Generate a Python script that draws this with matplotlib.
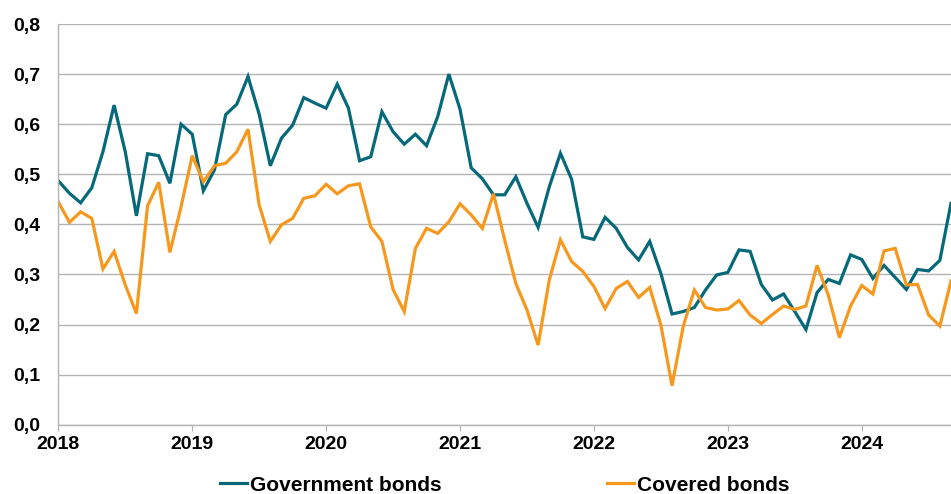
import numpy as np
import matplotlib
matplotlib.use("Agg")
import matplotlib.pyplot as plt

# monthly observations, Jan 2018 - Sep 2024
start_year = 2018
government_bonds = [
    0.487, 0.462, 0.443, 0.473, 0.545, 0.638, 0.545, 0.417, 0.541, 0.537, 0.482, 0.600,
    0.580, 0.467, 0.509, 0.619, 0.640, 0.695, 0.620, 0.517, 0.572, 0.598, 0.653, 0.642,
    0.632, 0.680, 0.632, 0.527, 0.535, 0.625, 0.585, 0.560, 0.580, 0.557, 0.615, 0.700,
    0.630, 0.513, 0.491, 0.459, 0.459, 0.495, 0.442, 0.394, 0.475, 0.542, 0.490, 0.375,
    0.370, 0.414, 0.392, 0.354, 0.329, 0.366, 0.302, 0.221, 0.226, 0.234, 0.269, 0.299,
    0.304, 0.349, 0.346, 0.280, 0.249, 0.261, 0.226, 0.190, 0.264, 0.290, 0.282, 0.339,
    0.330, 0.292, 0.318, 0.294, 0.270, 0.310, 0.307, 0.328, 0.442,
]
covered_bonds = [
    0.445, 0.404, 0.425, 0.412, 0.311, 0.346, 0.279, 0.222, 0.437, 0.484, 0.344, 0.435,
    0.537, 0.485, 0.517, 0.522, 0.545, 0.590, 0.439, 0.366, 0.399, 0.412, 0.452, 0.457,
    0.480, 0.461, 0.477, 0.481, 0.395, 0.366, 0.270, 0.226, 0.352, 0.392, 0.382, 0.405,
    0.441, 0.419, 0.392, 0.461, 0.369, 0.282, 0.229, 0.159, 0.289, 0.369, 0.326, 0.306,
    0.276, 0.232, 0.272, 0.286, 0.254, 0.274, 0.199, 0.078, 0.196, 0.269, 0.234, 0.229,
    0.231, 0.248, 0.219, 0.202, 0.220, 0.237, 0.230, 0.237, 0.318, 0.259, 0.174, 0.237,
    0.278, 0.261, 0.347, 0.352, 0.279, 0.280, 0.219, 0.197, 0.287,
]
year_ticks = [2018, 2019, 2020, 2021, 2022, 2023, 2024]
y_ticks = [0.0, 0.1, 0.2, 0.3, 0.4, 0.5, 0.6, 0.7, 0.8]

x = start_year + np.arange(len(government_bonds)) / 12

plt.rcParams['font.family'] = ['Liberation Sans', 'DejaVu Sans']

fig = plt.figure(figsize=(9.51, 4.94), dpi=100)
ax = fig.add_axes([58.3 / 951, (494 - 424.7) / 494, (951 - 58.3) / 951, (424.7 - 24) / 494])

ax.plot(x, government_bonds, color="#05697a", lw=2.3, label="Government bonds", solid_joinstyle="miter")
ax.plot(x, covered_bonds, color="#f7981e", lw=2.3, label="Covered bonds", solid_joinstyle="miter")

ax.set_xlim(x[0], x[-1])
ax.set_ylim(0, 0.8)
ax.set_xticks(year_ticks)
ax.set_xticklabels([str(t) for t in year_ticks], fontsize=14, fontweight="bold")
ax.set_yticks(y_ticks)
ax.set_yticklabels([f"{t:.1f}".replace(".", ",") for t in y_ticks], fontsize=14, fontweight="bold")

ax.grid(axis="y", color="#b4b4b4", lw=1.0)
ax.set_axisbelow(True)
for side in ["top", "right"]:
    ax.spines[side].set_visible(False)
for side in ["left", "bottom"]:
    ax.spines[side].set_color("#b4b4b4")
    ax.spines[side].set_linewidth(1.0)
ax.tick_params(axis="y", length=0, pad=13)
ax.tick_params(axis="x", length=4, color="#b4b4b4", pad=4)

ax.legend(loc="upper center", bbox_to_anchor=(0.5, -0.08), ncol=2, frameon=False,
          prop={"size": 15, "weight": "bold"}, handlelength=1.3, handletextpad=0.15,
          columnspacing=7.9)

fig.savefig("out.png", dpi=100)
